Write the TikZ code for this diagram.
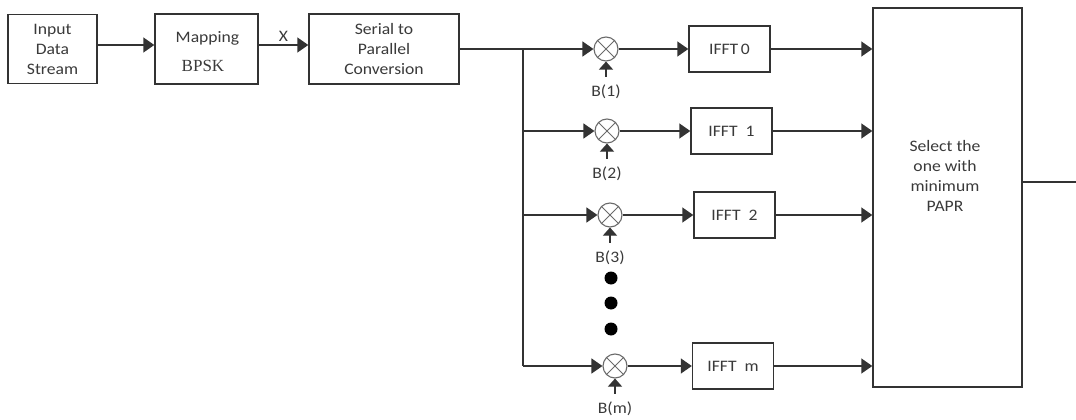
\documentclass[tikz,border=0pt]{standalone}
\usepackage{fontspec}
\setmainfont{Carlito}[FakeStretch=1.1]
\newfontfamily\serifbpsk{Liberation Serif}
\usetikzlibrary{arrows.meta}
\definecolor{ln}{HTML}{333333}
\definecolor{tx}{HTML}{3A3A3A}
\definecolor{cx}{HTML}{6A6A6A}
\begin{document}
\begin{tikzpicture}[x=1pt,y=-1pt,
  box/.style={draw=ln, line width=1.4pt, fill=white, align=center, text=tx,
    font=\fontsize{16}{20}\selectfont, inner sep=0},
  con/.style={draw=ln, line width=1.4pt},
  arr/.style={con, -{Triangle[length=11pt,width=15pt]}},
  barr/.style={draw=ln, line width=1.1pt, -{Triangle[length=8pt,width=14pt]}},
  mult/.style={circle, draw=cx, line width=1.1pt, minimum size=24pt, inner sep=0},
  cross/.style={draw=cx, line width=0.9pt},
  lbl/.style={text=tx, font=\fontsize{16}{20}\selectfont, inner sep=0, align=center},
  bigdot/.style={circle, fill=black, minimum size=13pt, inner sep=0}]
\useasboundingbox (0,0) rectangle (1076,420);

% top chain
\node[box, minimum width=89pt, minimum height=69pt] (inp) at (52.5,49) {Input\\Data\\Stream};
\node[box, minimum width=103pt, minimum height=70pt] (map) at (206.5,49) {};
\node[lbl] (maptxt) at (207.5,38) {Mapping};
\node[text=tx, inner sep=0, font=\serifbpsk\fontsize{17}{18}\selectfont] (bpsk) at (203,66) {BPSK};
\node[box, minimum width=150pt, minimum height=70pt] (ser) at (384,49) {Serial to\\Parallel\\Conversion};
\draw[arr] ([yshift=4pt]inp.east) -- ([yshift=4pt]map.west);
\draw[arr] ([yshift=4pt]map.east) -- node[lbl, above=3pt] (xl) {X} ([yshift=4pt]ser.west);

% multipliers
\node[mult] (m0) at (606,49) {};
\node[mult] (m1) at (607,131) {};
\node[mult] (m2) at (610,215) {};
\node[mult] (mm) at (615,366) {};
\foreach \m in {m0,m1,m2,mm}{
  \draw[cross] (\m.45) -- (\m.225) (\m.135) -- (\m.315);
}

% IFFT boxes
\node[box, minimum width=81pt, minimum height=46pt] (f0) at (729.5,49) {IFFT\,0};
\node[box, minimum width=81pt, minimum height=46pt] (f1) at (731.5,131) {IFFT\ \ 1};
\node[box, minimum width=81pt, minimum height=46pt] (f2) at (734.5,215) {IFFT\ \ 2};
\node[box, minimum width=81pt, minimum height=46pt] (fm) at (733,366) {IFFT\ \ m};

% select box
\node[box, minimum width=149pt, minimum height=379pt] (sel) at (947.5,197.5) {};
\node[lbl] (seltxt) at (945,176) {Select the\\one with\\minimum\\PAPR};
\coordinate (out) at (1076,182);
\draw[con] (sel.east |- out) -- (out);

% bus
\coordinate (b0) at (523,49);
\coordinate (bm) at (523,366);
\draw[arr] (ser.east) -- (m0.west);
\draw[con] (b0) -- (bm);
\draw[arr] (m1.west -| b0) -- (m1.west);
\draw[arr] (m2.west -| b0) -- (m2.west);
\draw[arr] (bm) -- (mm.west);

% multiplier to IFFT to select
\foreach \m/\f in {m0/f0,m1/f1,m2/f2,mm/fm}{
  \draw[arr] (\m.east) -- (\f.west);
  \draw[arr] (\f.east) -- (\f.east -| sel.west);
}

% B labels
\node[lbl] (bl0) at (606,92) {B(1)};
\node[lbl] (bl1) at (607,174) {B(2)};
\node[lbl] (bl2) at (610,258) {B(3)};
\node[lbl] (blm) at (615,409) {B(m)};
\foreach \l/\m in {bl0/m0,bl1/m1,bl2/m2,blm/mm}{
  \draw[barr] ([yshift=8pt]\l.north) -- (\m.south);
}

% dots
\node[bigdot] (d1) at (611,278) {};
\node[bigdot] (d2) at (611,303) {};
\node[bigdot] (d3) at (611,329) {};
\end{tikzpicture}
\end{document}
